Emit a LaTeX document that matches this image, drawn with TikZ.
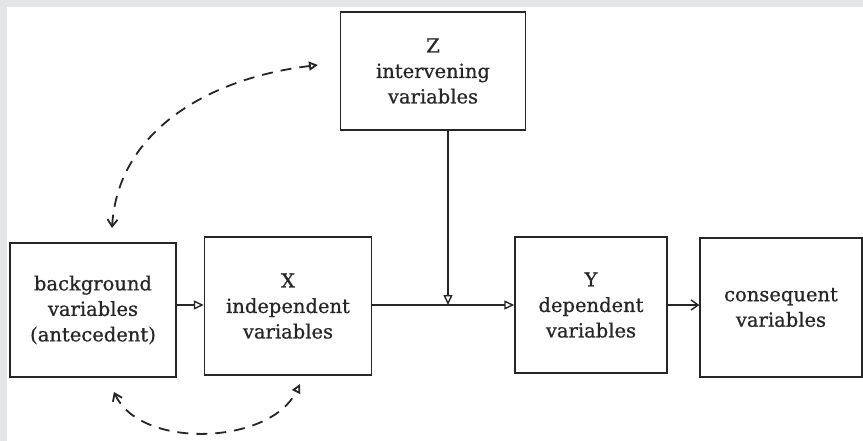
\documentclass[tikz,border=0pt]{standalone}
\usepackage{fontspec}
\setmainfont{DejaVu Serif}
\newfontfamily\boxfont[FakeBold=0.7]{DejaVu Serif}
\usetikzlibrary{arrows.meta}
\definecolor{ink}{HTML}{262626}
\definecolor{frame}{HTML}{E4E5E7}
\tikzset{
  varbox/.style={draw=ink, line width=1.4pt, inner sep=0pt, align=center,
    font=\boxfont\fontsize{19.5}{25.5}\selectfont, text=ink},
  flow/.style={draw=ink, line width=1.4pt, -{Triangle[open, length=10pt, width=9pt]}},
  link/.style={draw=ink, line width=1.8pt, dash pattern=on 11pt off 8pt,
    {Straight Barb[length=7pt, width=10pt]}-{Triangle[open, length=9pt, width=9pt]}},
}
\begin{document}
\begin{tikzpicture}[x=1pt, y=-1pt]
  % page with a light grey frame on the top and left
  \fill[frame] (0,0) rectangle (863,441);
  \fill[white] (7,7) rectangle (863,441);
  \useasboundingbox (0,0) rectangle (863,441);

  \node[varbox, minimum width=185pt, minimum height=118pt] (z) at (433,71)
    {Z\\intervening\\variables};
  \node[varbox, minimum width=166pt, minimum height=134pt] (bg) at (93,310)
    {background\\variables\\(antecedent)};
  \node[varbox, minimum width=167pt, minimum height=138pt] (x) at (288,306)
    {X\\independent\\variables};
  \node[varbox, minimum width=152pt, minimum height=136pt] (y) at (591,305)
    {Y\\dependent\\variables};
  \node[varbox, minimum width=162pt, minimum height=139pt] (c) at (781,307.5)
    {consequent\\variables};

  % main causal chain
  \coordinate (join) at (448,305);
  \coordinate (zfoot) at (448,130);
  \draw[flow] (bg.east |- 0,305) -- (x.west |- 0,305);
  \draw[flow] (x.east |- 0,305) -- (y.west |- 0,305);
  \draw[flow] (zfoot) -- (join);
  \draw[draw=ink, line width=1.4pt, -{Straight Barb[length=7pt, width=10pt]}]
    (y.east |- 0,305) -- (c.west |- 0,305);

  % associations between the background variables and the others
  \coordinate (t1) at (112,228);
  \coordinate (t2) at (318,65);
  \coordinate (b1) at (114,392);
  \coordinate (b2) at (300,384);
  \draw[link] (t1) .. controls (118,130) and (210,78) .. (t2);
  \draw[link] (b1) .. controls (140,450) and (270,445) .. (b2);
\end{tikzpicture}
\end{document}
